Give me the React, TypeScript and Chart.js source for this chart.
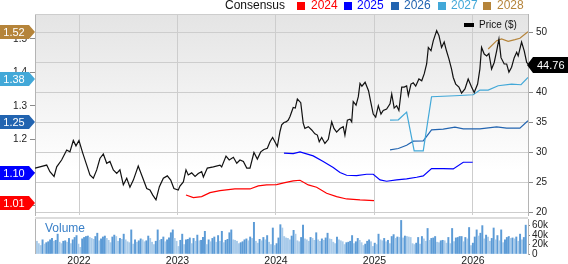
import React, { useEffect, useRef } from 'react';
import { Chart, registerables } from 'chart.js';
Chart.register(...registerables);

const FONT = '"Liberation Sans", Arial, Helvetica, sans-serif';

// time axis: weeks counted from the first week on the chart
const START_YEAR = 2021.553;
const WEEKS_PER_YEAR = 52.18;
const END_WEEK = 261.2;
const xTickYears = [2022, 2023, 2024, 2025, 2026];

// price ($)
const priceWeeks = [0,2.6,6.2,7.9,10.1,11.5,14.1,16.8,18.5,20.3,21.7,23.3,25.3,27.4,29.1,30.9,32.7,34.4,36.2,38.0,39.7,41.5,43.3,45.0,46.8,48.6,50.3,52.1,54.7,56.5,59.2,60.9,62.4,64.1,65.9,68.0,70.1,71.9,73.6,75.9,76.8,78.6,80.0,81.2,83.0,84.8,86.5,88.3,89.2,91.3,94.5,98.0,98.9,101.2,102.9,105.1,106.9,108.6,110.4,112.2,113.9,116.0,117.8,119.6,121.3,123.1,124.5,125.9,127.1,128.4,129.8,130.7,131.9,133.0,134.2,135.1,136.8,137.9,139.0,140.8,142.1,143.0,144.8,146.6,148.3,149.6,150.6,151.9,153.6,155.4,157.2,158.4,159.8,161.6,163.3,164.2,165.5,166.9,167.8,168.6,170.1,171.3,172.2,173.2,174.9,176.7,177.9,179.2,180.5,181.9,183.3,184.5,186.3,188.1,189.0,190.3,191.6,192.8,194.3,195.6,196.9,197.8,199.2,200.4,201.7,203.4,204.9,206.2,207.5,208.4,209.8,211.0,212.8,214.0,215.4,216.8,218.0,219.3,220.7,221.6,222.9,224.6,226.0,227.8,229.5,231.3,232.7,234.5,235.7,236.6,238.0,239.3,240.5,241.9,243.3,244.6,245.8,246.9,248.6,249.9,251.1,252.5,253.9,255.2,256.0,257.8,259.2,260.5,261.2];
const priceValues = [27.4,27.6,27.9,26.8,26.0,27.6,28.75,30.4,30.1,32.0,31.1,32.0,29.9,27.9,26.25,25.7,27.1,29.0,29.75,28.2,28.5,27.1,26.5,27.1,24.6,25.7,24.2,25.4,27.75,26.25,24.0,23.75,22.9,22.1,24.3,25.7,26.1,25.4,24.0,23.75,24.4,25.1,27.1,26.25,26.6,26.0,26.5,26.8,25.9,27.4,27.6,27.9,27.6,29.4,28.75,29.2,28.2,28.75,28.5,27.4,27.4,30.0,28.9,30.1,30.5,30.7,31.8,32.5,31.8,31.0,33.5,34.6,35.0,35.1,35.4,36.0,37.5,37.4,38.9,38.3,34.9,34.0,34.3,33.75,33.1,32.9,31.8,32.5,31.5,32.2,35.1,34.0,33.4,34.0,34.3,32.9,35.4,35.55,35.1,38.5,37.9,39.3,41.5,41.05,41.7,40.3,38.4,36.4,35.9,37.8,36.4,37.0,37.25,38.1,39.75,37.4,37.8,37.0,40.9,40.9,41.1,39.5,41.4,41.6,41.05,42.25,41.95,43.1,44.75,47.5,46.95,48.6,50.3,49.5,47.5,48.4,46.95,45.6,43.9,42.5,41.4,40.9,39.9,40.6,42.25,40.9,40.0,41.4,43.9,47.5,46.4,46.1,46.5,43.9,45.0,46.95,48.9,45.8,44.75,44.75,43.4,44.2,45.8,46.7,46.1,48.4,46.95,45.0,44.76];
const lastPrice = 44.76;
const priceTicks = [20, 25, 30, 35, 40, 45, 50];

// consensus EPS by fiscal year
const eps2024Weeks = [80.0,83.9,88.3,92.7,98.0,105.9,113.9,118.3,122.7,128.0,132.4,136.8,140.4,144.8,149.2,154.5,159.8,165.1,172.2,179.6];
const eps2024Values = [1.033,1.025,1.028,1.040,1.046,1.051,1.051,1.060,1.063,1.064,1.070,1.075,1.077,1.063,1.056,1.038,1.028,1.021,1.018,1.016];
const eps2025Weeks = [131.9,136.8,140.4,147.4,152.7,158.0,161.6,165.1,170.4,175.7,179.2,182.8,186.3,191.6,196.9,202.2,205.7,210.1,216.3,221.6,226.9,231.9];
const eps2025Values = [1.158,1.157,1.162,1.150,1.133,1.115,1.100,1.092,1.091,1.095,1.095,1.078,1.074,1.078,1.081,1.086,1.090,1.112,1.112,1.111,1.131,1.131];
const eps2026Weeks = [188.1,192.5,196.9,200.4,205.7,210.1,216.3,222.5,226.9,235.7,244.6,249.9,256.9,261.2];
const eps2026Values = [1.168,1.172,1.182,1.194,1.195,1.228,1.230,1.236,1.231,1.231,1.237,1.233,1.233,1.255];
const eps2027Weeks = [188.1,192.5,196.9,200.9,205.7,210.1,222.5,232.2,235.7,240.1,245.4,252.5,257.5,261.2];
const eps2027Values = [1.257,1.258,1.281,1.165,1.165,1.327,1.330,1.333,1.347,1.347,1.360,1.365,1.363,1.385];
const eps2028Weeks = [240.1,244.6,247.2,250.7,254.3,256.9,261.2];
const eps2028Values = [1.470,1.495,1.500,1.493,1.498,1.502,1.522];
const epsTagValues = [1.52, 1.38, 1.25, 1.10, 1.01];
const epsTicks = [1.0, 1.1, 1.2, 1.3, 1.4, 1.5];

// weekly volume (thousands)
const volumeValues = [
  31,27,22,18,30,21,24,26,30,33,27,29,42,25,22,27,28,25,33,22,
  30,35,39,21,14,32,35,37,38,35,33,31,37,44,28,32,36,38,33,29,
  24,36,40,37,27,33,31,42,30,26,24,51,21,30,25,28,32,30,26,28,
  38,33,25,20,27,51,29,31,36,26,30,34,45,51,33,27,16,29,42,20,
  30,31,34,22,33,27,40,28,29,35,48,20,30,26,33,36,25,39,27,48,
  24,29,31,45,51,30,29,27,22,24,26,30,32,28,36,33,67,27,23,31,
  28,35,30,39,25,20,55,18,22,34,62,55,37,34,33,30,38,50,42,28,
  26,35,61,32,30,27,35,33,29,45,30,27,32,29,34,44,32,31,25,22,
  36,30,28,26,20,24,25,27,39,22,26,33,29,24,18,21,27,30,26,16,
  23,20,42,30,28,33,26,29,22,37,41,33,36,35,71,34,38,37,36,35,
  22,20,23,35,21,37,32,27,54,29,33,34,37,25,24,28,29,28,23,35,
  22,54,26,34,35,37,37,26,35,32,56,18,23,36,51,38,44,60,32,40,
  36,27,33,55,30,39,28,51,24,30,35,37,33,34,32,36,27,42,30,35,61
];
const volumeTicks = [0, 20000, 40000, 60000];

const C2024 = '#ff0000';
const C2025 = '#0000ff';
const C2026 = '#2264b0';
const C2027 = '#42a8d8';
const C2028 = '#b5843a';
const tagColors = [C2028, C2027, C2026, C2025, C2024];
const GRID = '#cdcdcd';
const AXIS = '#b4b4b4';
const TICK = '#8a8a8a';

const PRICE_MIN = 19.58, PRICE_MAX = 53.08;
const EPS_MIN = 0.973, EPS_MAX = 1.5748;
const VOL_MAX = 74000;

const toYear = (w: number) => START_YEAR + w / WEEKS_PER_YEAR;
const pts = (ws: number[], vs: number[]) => ws.map((w, i) => ({ x: toYear(w), y: vs[i] }));

const fixY = (width: number) => (s: any) => { s.width = width; s.paddingTop = 0; s.paddingBottom = 0; };
const fixX = (height: number) => (s: any) => { s.height = height; s.paddingLeft = 0; s.paddingRight = 0; };

const bgPlugin = {
  id: 'bg',
  beforeDraw(chart: any) {
    const { ctx, chartArea: a } = chart;
    const g = ctx.createLinearGradient(0, a.top, 0, a.bottom);
    g.addColorStop(0, '#e4e4e4');
    g.addColorStop(0.78, '#ffffff');
    g.addColorStop(1, '#ffffff');
    ctx.save();
    ctx.fillStyle = g;
    ctx.fillRect(a.left, a.top, a.right - a.left, a.bottom - a.top);
    ctx.restore();
  },
  afterDraw(chart: any) {
    const { ctx, chartArea: a, scales } = chart;
    ctx.save();
    ctx.strokeStyle = GRID;
    ctx.lineWidth = 1;
    ctx.beginPath();
    ctx.moveTo(a.left, a.top + 0.5);
    ctx.lineTo(a.right, a.top + 0.5);
    ctx.stroke();
    ctx.font = '11px ' + FONT;
    ctx.textBaseline = 'middle';
    epsTagValues.forEach((v, i) => {
      const y = Math.round(scales.eps.getPixelForValue(v));
      const h = 7;
      ctx.fillStyle = tagColors[i];
      ctx.beginPath();
      ctx.moveTo(0, y - h);
      ctx.lineTo(a.left - 6, y - h);
      ctx.lineTo(a.left, y);
      ctx.lineTo(a.left - 6, y + h);
      ctx.lineTo(0, y + h);
      ctx.closePath();
      ctx.fill();
      ctx.fillStyle = '#ffffff';
      ctx.textAlign = 'center';
      ctx.fillText(v.toFixed(2), 14, y + 0.5);
    });
    const py = Math.round(scales.price.getPixelForValue(lastPrice)) + 1;
    const ph = 8;
    ctx.fillStyle = '#000000';
    ctx.beginPath();
    ctx.moveTo(a.right - 1, py);
    ctx.lineTo(a.right + 5, py - ph);
    ctx.lineTo(568, py - ph);
    ctx.lineTo(568, py + ph);
    ctx.lineTo(a.right + 5, py + ph);
    ctx.closePath();
    ctx.fill();
    ctx.fillStyle = '#ffffff';
    ctx.textAlign = 'left';
    ctx.fillText(lastPrice.toFixed(2), a.right + 9, py + 0.5);
    ctx.restore();
  },
};

const volPlugin = {
  id: 'volframe',
  afterDraw(chart: any) {
    const { ctx, chartArea: a } = chart;
    ctx.save();
    ctx.fillStyle = '#dcdcdc';
    ctx.fillRect(a.left, a.top - 2, a.right - a.left, 2);
    ctx.strokeStyle = AXIS;
    ctx.beginPath();
    ctx.moveTo(a.left + 0.5, a.top);
    ctx.lineTo(a.left + 0.5, a.bottom);
    ctx.stroke();
    ctx.restore();
  },
};

export default function App() {
  const priceRef = useRef<HTMLCanvasElement>(null);
  const volRef = useRef<HTMLCanvasElement>(null);

  useEffect(() => {
    const xMin = toYear(0);
    const xMax = toYear(END_WEEK);
    const lineDs = (label: string, data: any, color: string, axis: string) => ({
      label, data, borderColor: color, backgroundColor: color, borderWidth: 1.2,
      pointRadius: 0, tension: 0, yAxisID: axis, fill: false,
    });
    const c1 = new Chart(priceRef.current as HTMLCanvasElement, {
      type: 'line',
      data: {
        datasets: [
          lineDs('Price ($)', pts(priceWeeks, priceValues), '#111111', 'price'),
          lineDs('2028', pts(eps2028Weeks, eps2028Values), C2028, 'eps'),
          lineDs('2027', pts(eps2027Weeks, eps2027Values), C2027, 'eps'),
          lineDs('2026', pts(eps2026Weeks, eps2026Values), C2026, 'eps'),
          lineDs('2025', pts(eps2025Weeks, eps2025Values), C2025, 'eps'),
          lineDs('2024', pts(eps2024Weeks, eps2024Values), C2024, 'eps'),
        ] as any,
      },
      options: {
        animation: false,
        responsive: false,
        devicePixelRatio: 1,
        layout: { padding: { top: 14, bottom: 1, left: 0, right: 0 } },
        plugins: { legend: { display: false }, tooltip: { enabled: false } },
        scales: {
          x: {
            type: 'linear', min: xMin, max: xMax,
            afterBuildTicks: (s: any) => { s.ticks = xTickYears.map((v) => ({ value: v })); },
            ticks: { display: false, autoSkip: false },
            grid: { color: GRID, drawTicks: false },
            border: { display: false },
            afterFit: fixX(0),
          },
          price: {
            type: 'linear', position: 'right', min: PRICE_MIN, max: PRICE_MAX,
            afterBuildTicks: (s: any) => { s.ticks = priceTicks.map((v) => ({ value: v })); },
            ticks: { color: '#222', padding: 3, autoSkip: false, font: { family: FONT, size: 10 }, callback: (v: any) => String(v) },
            grid: { color: GRID, tickColor: TICK, tickLength: 5 },
            border: { color: AXIS },
            afterFit: fixY(40),
          },
          eps: {
            type: 'linear', position: 'left', min: EPS_MIN, max: EPS_MAX,
            afterBuildTicks: (s: any) => { s.ticks = epsTicks.map((v) => ({ value: v })); },
            ticks: { color: '#222', padding: 3, autoSkip: false, font: { family: FONT, size: 10 }, callback: (v: any) => Number(v).toFixed(1) },
            grid: { drawOnChartArea: false, tickColor: TICK, tickLength: 5 },
            border: { color: AXIS },
            afterFit: fixY(35),
          },
        },
      } as any,
      plugins: [bgPlugin],
    });

    const volColors = volumeValues.map((v, i) => (i > 0 && v >= volumeValues[i - 1] ? '#5c9bd6' : '#a9cbea'));
    const c2 = new Chart(volRef.current as HTMLCanvasElement, {
      type: 'bar',
      data: {
        datasets: [{
          label: 'Volume',
          data: volumeValues.map((v, i) => ({ x: toYear(i), y: v * 1000 })),
          backgroundColor: volColors,
          barThickness: 1.3,
          yAxisID: 'vol',
        }] as any,
      },
      options: {
        animation: false,
        responsive: false,
        devicePixelRatio: 1,
        layout: { padding: { top: 3, bottom: 0, left: 35, right: 0 } },
        plugins: { legend: { display: false }, tooltip: { enabled: false } },
        scales: {
          x: {
            type: 'linear', min: xMin, max: xMax, offset: false,
            afterBuildTicks: (s: any) => { s.ticks = xTickYears.map((v) => ({ value: v })); },
            ticks: { color: '#222', padding: 1, maxRotation: 0, autoSkip: false, font: { family: FONT, size: 10.5 }, callback: (v: any) => String(v) },
            grid: { display: false, drawTicks: false, offset: false },
            border: { display: false },
            afterFit: fixX(10),
          },
          vol: {
            type: 'linear', position: 'right', min: 0, max: VOL_MAX,
            afterBuildTicks: (s: any) => { s.ticks = volumeTicks.map((v) => ({ value: v })); },
            ticks: { color: '#222', padding: 2, autoSkip: false, font: { family: FONT, size: 10 }, callback: (v: any) => (v === 0 ? '0' : v / 1000 + 'k') },
            grid: { display: true, drawOnChartArea: false, tickColor: TICK, tickLength: 2 },
            border: { color: AXIS },
            afterFit: fixY(40),
          },
        },
      } as any,
      plugins: [volPlugin],
    });
    return () => { c1.destroy(); c2.destroy(); };
  }, []);

  const legendItems = [
    { label: '2024', color: C2024, sq: 297, tx: 311 },
    { label: '2025', color: C2025, sq: 344, tx: 357 },
    { label: '2026', color: C2026, sq: 391, tx: 404 },
    { label: '2027', color: C2027, sq: 438, tx: 451 },
    { label: '2028', color: C2028, sq: 483, tx: 497 },
  ];
  const txt: React.CSSProperties = { position: 'absolute', whiteSpace: 'nowrap', fontFamily: FONT, fontSize: 12, lineHeight: '12px' };

  return (
    <div style={{ position: 'absolute', left: 0, top: 0, width: 568, height: 264, background: '#fff', overflow: 'hidden' }}>
      <canvas ref={priceRef} width={568} height={216} style={{ position: 'absolute', left: 0, top: 0 }} />
      <canvas ref={volRef} width={568} height={48} style={{ position: 'absolute', left: 0, top: 216 }} />
      <span style={{ ...txt, left: 225, top: -1, color: '#111' }}>Consensus</span>
      {legendItems.map((it) => (
        <React.Fragment key={it.label}>
          <span style={{ position: 'absolute', left: it.sq, top: 2, width: 8, height: 8, background: it.color }} />
          <span style={{ ...txt, left: it.tx, top: -1, color: it.color }}>{it.label}</span>
        </React.Fragment>
      ))}
      <span style={{ position: 'absolute', left: 464, top: 23, width: 10, height: 4, background: '#000' }} />
      <span style={{ ...txt, left: 479, top: 20, fontSize: 10, lineHeight: '10px', color: '#111' }}>Price ($)</span>
      <span style={{ ...txt, left: 45, top: 222, color: '#3a80c8' }}>Volume</span>
    </div>
  );
}
